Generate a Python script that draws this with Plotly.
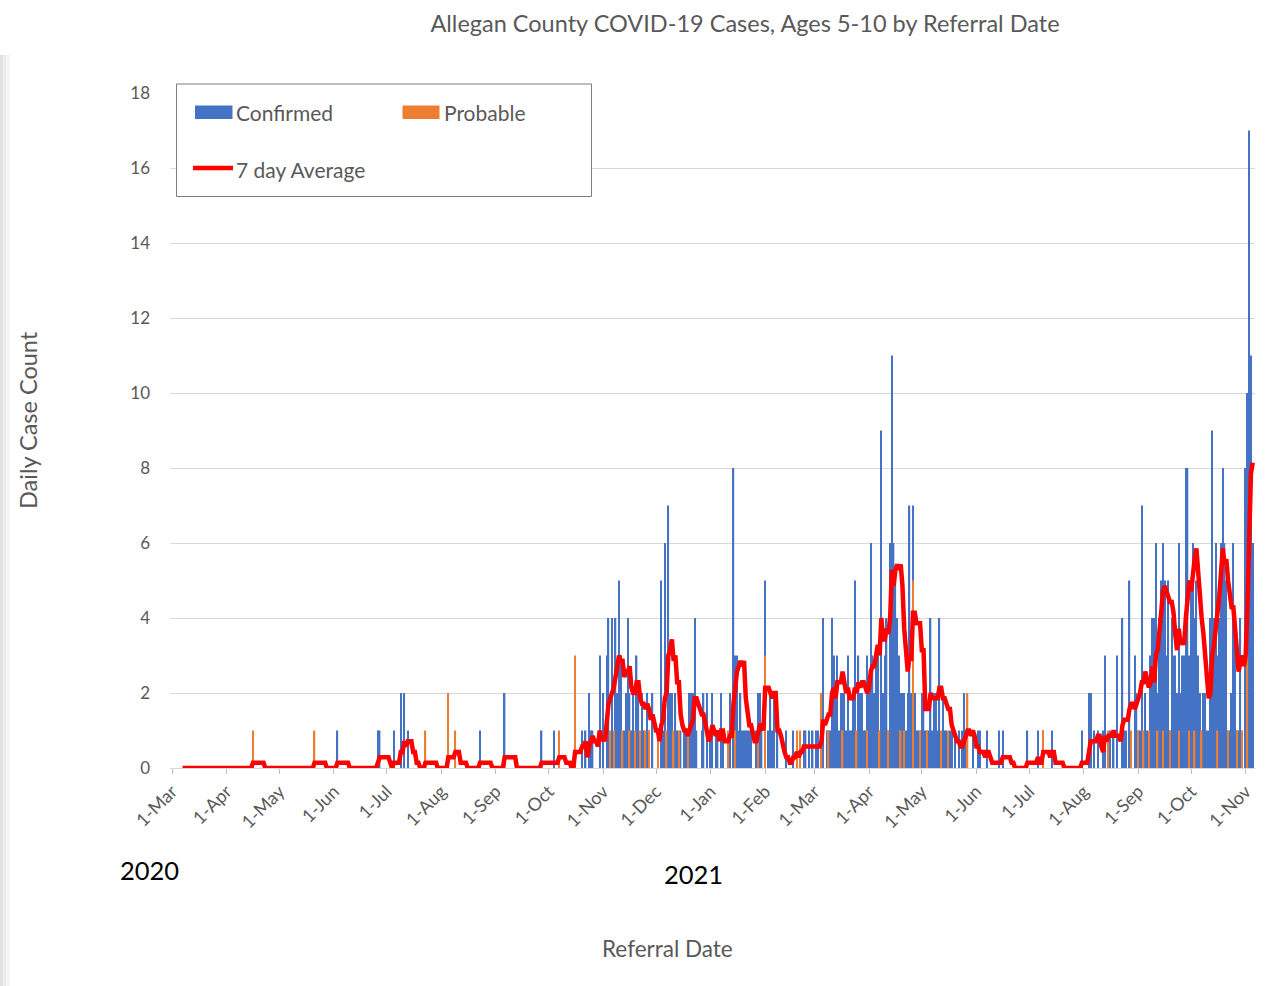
"""Allegan County COVID-19 cases, ages 5-10, by referral date."""

import pandas as pd
import plotly.graph_objects as go

# Confirmed cases per day, one list per month
confirmed_2020_03 = [0, 0, 0, 0, 0, 0, 0, 0, 0, 0, 0, 0, 0, 0, 0, 0, 0, 0, 0, 0, 0, 0, 0, 0, 0, 0, 0, 0, 0, 0, 0]
confirmed_2020_04 = [0, 0, 0, 0, 0, 0, 0, 0, 0, 0, 0, 0, 0, 0, 0, 0, 0, 0, 0, 0, 0, 0, 0, 0, 0, 0, 0, 0, 0, 0]
confirmed_2020_05 = [0, 0, 0, 0, 0, 0, 0, 0, 0, 0, 0, 0, 0, 0, 0, 0, 0, 0, 0, 0, 0, 0, 0, 0, 0, 0, 0, 0, 0, 0, 0]
confirmed_2020_06 = [0, 0, 1, 0, 0, 0, 0, 0, 0, 0, 0, 0, 0, 0, 0, 0, 0, 0, 0, 0, 0, 0, 0, 0, 0, 1, 1, 0, 0, 0]
confirmed_2020_07 = [0, 0, 0, 0, 1, 0, 0, 0, 2, 0, 2, 0, 1, 0, 0, 0, 0, 0, 0, 0, 0, 0, 0, 0, 0, 0, 0, 0, 0, 0, 0]
confirmed_2020_08 = [0, 0, 0, 0, 0, 0, 0, 0, 0, 0, 0, 0, 0, 0, 0, 0, 0, 0, 0, 0, 0, 0, 1, 0, 0, 0, 0, 0, 0, 0, 0]
confirmed_2020_09 = [0, 0, 0, 0, 0, 2, 0, 0, 0, 0, 0, 0, 0, 0, 0, 0, 0, 0, 0, 0, 0, 0, 0, 0, 0, 0, 1, 0, 0, 0]
confirmed_2020_10 = [0, 0, 0, 1, 0, 0, 0, 0, 0, 0, 0, 0, 0, 0, 0, 0, 0, 0, 0, 1, 0, 1, 0, 2, 1, 1, 0, 0, 0, 3, 0]
confirmed_2020_11 = [2, 0, 3, 4, 0, 4, 0, 4, 2, 5, 3, 0, 1, 2, 4, 2, 1, 2, 0, 3, 2, 0, 2, 1, 0, 2, 1, 0, 2, 0]
confirmed_2020_12 = [0, 0, 0, 5, 1, 6, 0, 7, 2, 2, 0, 2, 1, 0, 1, 0, 1, 1, 0, 2, 2, 2, 4, 1, 0, 0, 1, 2, 0, 2, 0]
confirmed_2021_01 = [1, 2, 0, 1, 1, 0, 2, 1, 0, 0, 0, 2, 0, 8, 3, 3, 1, 2, 1, 1, 1, 1, 1, 1, 0, 0, 1, 2, 2, 1, 0]
confirmed_2021_02 = [5, 0, 1, 2, 1, 2, 0, 1, 0, 0, 0, 0, 1, 0, 0, 0, 1, 0, 0, 0, 0, 0, 1, 1, 0, 1, 0, 1]
confirmed_2021_03 = [0, 1, 1, 0, 0, 4, 0, 1, 1, 1, 4, 3, 2, 3, 1, 2, 2, 2, 1, 3, 1, 1, 2, 5, 0, 3, 2, 2, 1, 1, 3]
confirmed_2021_04 = [2, 6, 3, 2, 3, 3, 1, 9, 2, 3, 4, 1, 6, 11, 6, 5, 4, 3, 2, 2, 2, 1, 2, 7, 2, 7, 2, 1, 1, 1]
confirmed_2021_05 = [2, 2, 1, 1, 1, 4, 1, 2, 2, 1, 4, 0, 2, 1, 1, 0, 1, 1, 0, 1, 0, 1, 0, 1, 2, 1, 0, 0, 0, 1, 0]
confirmed_2021_06 = [0, 1, 1, 0, 0, 0, 1, 0, 0, 0, 0, 0, 0, 1, 0, 1, 0, 0, 0, 0, 0, 0, 0, 0, 0, 0, 0, 0, 0, 1]
confirmed_2021_07 = [0, 0, 0, 0, 0, 1, 0, 0, 1, 0, 0, 0, 0, 1, 0, 0, 0, 0, 0, 0, 0, 0, 0, 0, 0, 0, 0, 0, 0, 0, 1]
confirmed_2021_08 = [0, 0, 0, 2, 2, 0, 1, 0, 1, 0, 0, 1, 3, 0, 0, 1, 0, 1, 0, 3, 0, 0, 4, 1, 1, 0, 5, 0, 0, 3, 2]
confirmed_2021_09 = [1, 1, 7, 0, 2, 1, 0, 3, 4, 4, 6, 2, 4, 5, 6, 5, 3, 5, 1, 4, 3, 3, 2, 6, 2, 3, 3, 8, 8, 3]
confirmed_2021_10 = [5, 6, 4, 5, 3, 2, 1, 2, 2, 1, 1, 4, 9, 4, 6, 3, 4, 6, 8, 6, 5, 1, 1, 2, 6, 4, 1, 1, 4, 1, 0]
confirmed_2021_11 = [8, 10, 17, 11, 6]

# Probable cases: only the days that have any
probable_dates = [
    "2020-04-16", "2020-05-21", "2020-07-23", "2020-08-05", "2020-08-09",
    "2020-10-07", "2020-10-16", "2020-11-05", "2020-11-07", "2020-11-12",
    "2020-11-16", "2020-11-19", "2020-11-22", "2020-11-25", "2020-11-27",
    "2020-12-02", "2020-12-07", "2020-12-11", "2020-12-14", "2020-12-19",
    "2021-01-11", "2021-01-15", "2021-01-28", "2021-02-01", "2021-02-19",
    "2021-02-21", "2021-03-05", "2021-03-09", "2021-03-17", "2021-03-25",
    "2021-03-31", "2021-04-07", "2021-04-12", "2021-04-19", "2021-04-21",
    "2021-04-26", "2021-04-30", "2021-05-04", "2021-05-12", "2021-05-16",
    "2021-05-27", "2021-07-09", "2021-08-15", "2021-08-28", "2021-09-01",
    "2021-09-04", "2021-09-07", "2021-09-12", "2021-09-15", "2021-09-19",
    "2021-09-24", "2021-09-30", "2021-10-03", "2021-10-07", "2021-10-16",
    "2021-10-22", "2021-10-27", "2021-10-30", "2021-11-02",
]
probable_counts = [
    1, 1, 1, 2, 1,
    1, 3, 1, 1, 1,
    1, 1, 1, 1, 1,
    1, 1, 1, 1, 1,
    1, 1, 1, 3, 1,
    1, 2, 1, 1, 1,
    1, 1, 1, 1, 1,
    5, 1, 1, 1, 1,
    2, 1, 1, 1, 1,
    1, 1, 1, 1, 1,
    1, 1, 1, 1, 1,
    1, 1, 1, 3,
]

month_lists = [
    ("2020-03-01", confirmed_2020_03), ("2020-04-01", confirmed_2020_04),
    ("2020-05-01", confirmed_2020_05), ("2020-06-01", confirmed_2020_06),
    ("2020-07-01", confirmed_2020_07), ("2020-08-01", confirmed_2020_08),
    ("2020-09-01", confirmed_2020_09), ("2020-10-01", confirmed_2020_10),
    ("2020-11-01", confirmed_2020_11), ("2020-12-01", confirmed_2020_12),
    ("2021-01-01", confirmed_2021_01), ("2021-02-01", confirmed_2021_02),
    ("2021-03-01", confirmed_2021_03), ("2021-04-01", confirmed_2021_04),
    ("2021-05-01", confirmed_2021_05), ("2021-06-01", confirmed_2021_06),
    ("2021-07-01", confirmed_2021_07), ("2021-08-01", confirmed_2021_08),
    ("2021-09-01", confirmed_2021_09), ("2021-10-01", confirmed_2021_10),
    ("2021-11-01", confirmed_2021_11),
]

pieces = [
    pd.Series(vals, index=pd.date_range(start, periods=len(vals), freq="D"))
    for start, vals in month_lists
]
confirmed = pd.concat(pieces)
days = confirmed.index
probable = pd.Series(probable_counts, index=pd.to_datetime(probable_dates))
probable = probable.reindex(days, fill_value=0)
seven_day = (confirmed + probable).rolling(7).mean()

BLUE = "#4472C4"
ORANGE = "#ED7D31"
RED = "#FF0000"
GREY_TEXT = "#595959"
FONT = "Lato"

# plot area in pixels
L, R, T, B = 170, 1255, 93, 768


def px_x(x):
    return (x - L) / (R - L)


def px_y(y):
    return (B - y) / (B - T)


bar_width = 86400000 * 0.8

fig = go.Figure()
fig.add_trace(
    go.Bar(x=days, y=confirmed.values, name="Confirmed", width=bar_width,
           marker=dict(color=BLUE, line=dict(width=0)))
)
fig.add_trace(
    go.Bar(x=days, y=probable.values, name="Probable", width=bar_width,
           marker=dict(color=ORANGE, line=dict(width=0)))
)
fig.add_trace(
    go.Scatter(x=days, y=seven_day.values, name="7 day Average", mode="lines",
               line=dict(color=RED, width=4.5))
)

shapes = []
# faint shadow at the left edge of the image
for x0, x1, col in [(0, 3, "#E2E2E2"), (3, 6, "#EBEBEB"), (6, 10, "#F4F4F4")]:
    shapes.append(dict(type="rect", xref="paper", yref="paper",
                       x0=px_x(x0), x1=px_x(x1), y0=px_y(986), y1=px_y(55),
                       fillcolor=col, line=dict(width=0), layer="below"))
# legend box
shapes.append(dict(type="rect", xref="paper", yref="paper",
                   x0=px_x(176.5), x1=px_x(591.5), y0=px_y(196.5), y1=px_y(84),
                   fillcolor="white", line=dict(color="#7F7F7F", width=1)))
shapes.append(dict(type="rect", xref="paper", yref="paper",
                   x0=px_x(195), x1=px_x(232.5), y0=px_y(119), y1=px_y(105.5),
                   fillcolor=BLUE, line=dict(width=0)))
shapes.append(dict(type="rect", xref="paper", yref="paper",
                   x0=px_x(402.5), x1=px_x(439.5), y0=px_y(119), y1=px_y(105.5),
                   fillcolor=ORANGE, line=dict(width=0)))
shapes.append(dict(type="line", xref="paper", yref="paper",
                   x0=px_x(193), x1=px_x(233), y0=px_y(168), y1=px_y(168),
                   line=dict(color=RED, width=4.5)))

annotations = [
    dict(text="Confirmed", x=px_x(234), y=px_y(112), xanchor="left"),
    dict(text="Probable", x=px_x(441.5), y=px_y(112), xanchor="left"),
    dict(text="7 day Average", x=px_x(234), y=px_y(169), xanchor="left"),
    dict(text="Daily Case Count", x=px_x(28), y=px_y(420), textangle=-90,
         font=dict(size=23.5, color=GREY_TEXT, family=FONT)),
    dict(text="Referral Date", x=px_x(667), y=px_y(948),
         font=dict(size=22.5, color=GREY_TEXT, family=FONT)),
    dict(text="2020", x=px_x(149), y=px_y(870), font=dict(size=25.5, color="black", family=FONT)),
    dict(text="2021", x=px_x(693), y=px_y(874), font=dict(size=25.5, color="black", family=FONT)),
]
for a in annotations:
    a.update(xref="paper", yref="paper", showarrow=False, yanchor="middle")
    a.setdefault("xanchor", "center")
    a.setdefault("font", dict(size=21, color=GREY_TEXT, family=FONT))

fig.update_layout(
    width=1281,
    height=986,
    margin=dict(l=L, r=1281 - R, t=T, b=986 - B, pad=0),
    paper_bgcolor="white",
    plot_bgcolor="white",
    barmode="overlay",
    showlegend=False,
    font=dict(family=FONT, color=GREY_TEXT),
    title=dict(
        text="Allegan County COVID-19 Cases, Ages 5-10 by Referral Date",
        x=745 / 1281, xref="container", xanchor="center",
        y=1 - 24 / 986, yref="container", yanchor="middle",
        font=dict(size=23.5, color=GREY_TEXT, family=FONT),
    ),
    shapes=shapes,
    annotations=annotations,
)
fig.update_xaxes(
    type="date",
    range=["2020-02-28 20:44", "2021-11-06 07:12"],
    tickvals=pd.date_range("2020-03-01", "2021-11-01", freq="MS"),
    tickformat="%-d-%b",
    tickangle=-45,
    ticks="outside",
    ticklen=5,
    tickcolor="#BFBFBF",
    showgrid=False,
    showline=False,
    zeroline=False,
    tickfont=dict(size=18, color=GREY_TEXT, family=FONT),
)
fig.update_yaxes(
    range=[0, 18],
    dtick=2,
    showgrid=True,
    gridcolor="#D9D9D9",
    gridwidth=1,
    zeroline=True,
    zerolinecolor="#D9D9D9",
    zerolinewidth=1,
    showline=False,
    ticks="",
    ticklabelstandoff=19,
    tickfont=dict(size=17, color=GREY_TEXT, family=FONT),
)

# the page body has a default 8px margin; remove it so the chart sits at 0,0
fig.write_html(
    "out.html",
    config={"displayModeBar": False},
    post_script="document.body.style.margin='0px';",
)
